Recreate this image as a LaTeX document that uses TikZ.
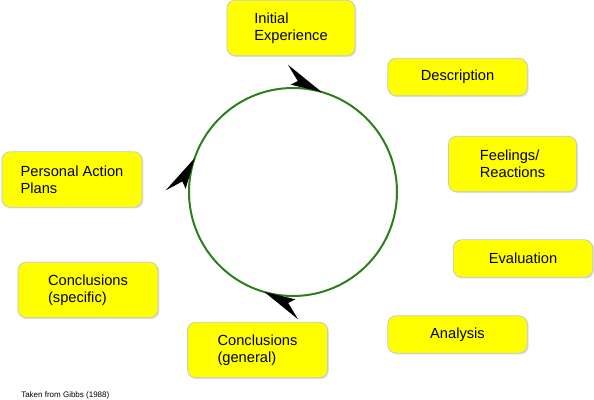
\documentclass[tikz,border=0pt]{standalone}
\usepackage{fontspec}
\setmainfont{Liberation Sans}
\usepackage{xcolor}
\usepackage{tikz}
\usetikzlibrary{shadows}
\definecolor{boxyellow}{RGB}{255,255,0}
\definecolor{boxborder}{RGB}{200,200,200}
\definecolor{cyclegreen}{RGB}{46,125,30}

\begin{document}
\begin{tikzpicture}[x=0.75pt,y=0.75pt,
  stage/.style={draw=boxborder,line width=0.6pt,fill=boxyellow,rectangle,rounded corners=6pt,align=left,
    font=\fontsize{11}{12.75}\selectfont,drop shadow={shadow xshift=1pt,shadow yshift=-1pt,opacity=0.25}},
  flat/.style={stage,minimum width=104.5pt,minimum height=28pt},
  tall/.style={stage,minimum width=105pt,minimum height=41.5pt},
  slim/.style={stage,minimum width=96pt,minimum height=41.5pt},
  halfhead/.pic={\fill[black] (0,0) -- (-40,17) -- (-26,4) -- (-32,-1.5) -- cycle;}]
\useasboundingbox (0,0) rectangle (594,400);
\fill[white] (0,0) rectangle (594,400);
% the cycle
\coordinate (hub) at (293,208);
\draw[draw=cyclegreen,line width=1.5pt](hub) circle[radius=104];
\pic[rotate=-16] (toparrow) at ([shift={(74:104)}]hub) {halfhead};
\pic[rotate=71] (leftarrow) at ([shift={(161:104)}]hub) {halfhead};
\pic[rotate=164] (botarrow) at ([shift={(254:104)}]hub) {halfhead};
% stages
\node[slim](init) at (291,372){Initial\\Experience};
\node[flat](desc) at (457.5,323){Description};
\node[slim](feel) at (512.5,236){Feelings/\\Reactions};
\node[flat](eval) at (523,141.5){Evaluation};
\node[flat](anal) at (457.5,65.5){Analysis};
\node[tall](cgen) at (257.5,50){Conclusions\\(general)};
\node[tall](cspec) at (88,110){Conclusions\\(specific)};
\node[tall](plan) at (72,220.5){Personal Action\\Plans};
\node[anchor=west,inner sep=0pt,font=\fontsize{6}{7}\selectfont](src) at (21,5){Taken from Gibbs (1988)};
\end{tikzpicture}
\end{document}
